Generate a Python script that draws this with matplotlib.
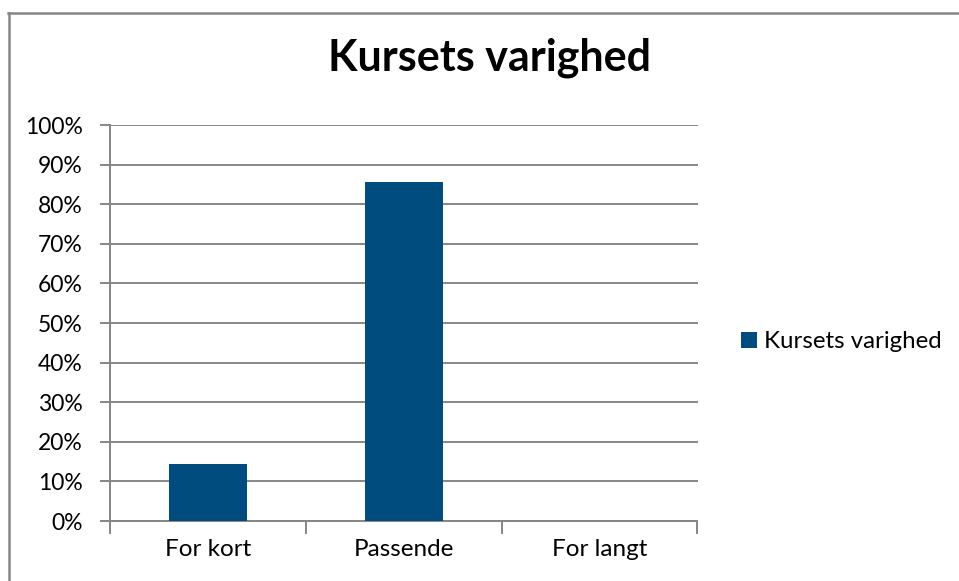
import matplotlib.pyplot as plt
from matplotlib.lines import Line2D
import numpy as np

categories = ['For kort', 'Passende', 'For langt']
values = [1 / 7, 6 / 7, 0.0]
series_name = 'Kursets varighed'
title = 'Kursets varighed'

plt.rcParams['font.family'] = ['Lato', 'DejaVu Sans']

W, H = 959, 581
fig = plt.figure(figsize=(W / 100, H / 100), dpi=100)
ax = fig.add_axes([110 / W, 1 - 521 / H, (697.5 - 110) / W, (521 - 125) / H])

bar_color = '#004C7F'
grid_color = '#868686'

x = np.arange(len(categories))
ax.bar(x, values, width=0.4, color=bar_color, label=series_name, zorder=3)

ax.set_xlim(-0.5, len(categories) - 0.5)
ax.set_ylim(0, 1)
ax.set_yticks(np.arange(0, 1.01, 0.1))
ax.set_yticklabels([f'{int(round(v * 100))}%' for v in np.arange(0, 1.01, 0.1)],
                   fontsize=16.5, color='#000000')
ax.yaxis.grid(True, color=grid_color, linewidth=1.4, zorder=0)

# category ticks sit on the boundaries between categories
ax.set_xticks(np.arange(-0.5, len(categories), 1.0))
ax.set_xticklabels([])
ax.set_xticks(x, labels=categories, minor=True)
ax.tick_params(axis='x', which='minor', length=0, labelsize=17.5, pad=13)
ax.tick_params(axis='x', which='major', length=9, width=1.4, color=grid_color)
ax.tick_params(axis='y', length=7, width=1.4, color=grid_color, pad=12.5)

for side in ['top', 'right']:
    ax.spines[side].set_visible(False)
for side in ['left', 'bottom']:
    ax.spines[side].set_color(grid_color)
    ax.spines[side].set_linewidth(1.4)

fig.text(489.5 / W, 1 - 58 / H, title, ha='center', va='center',
         fontsize=31, fontweight='bold')

fig.legend(loc='center left', bbox_to_anchor=(741 / W, 1 - 342 / H),
           frameon=False, fontsize=17.3, handlelength=0.65, handleheight=0.65,
           handletextpad=0.3, borderaxespad=0, borderpad=0)

# outer chart border (only left and top are inside the crop)
fig.add_artist(Line2D([9 / W, 9 / W], [0, 1 - 12.5 / H], transform=fig.transFigure,
                      color=grid_color, linewidth=1.8))
fig.add_artist(Line2D([8.1 / W, 1], [1 - 12.5 / H, 1 - 12.5 / H], transform=fig.transFigure,
                      color=grid_color, linewidth=1.8))

fig.savefig('out.png', dpi=100)
